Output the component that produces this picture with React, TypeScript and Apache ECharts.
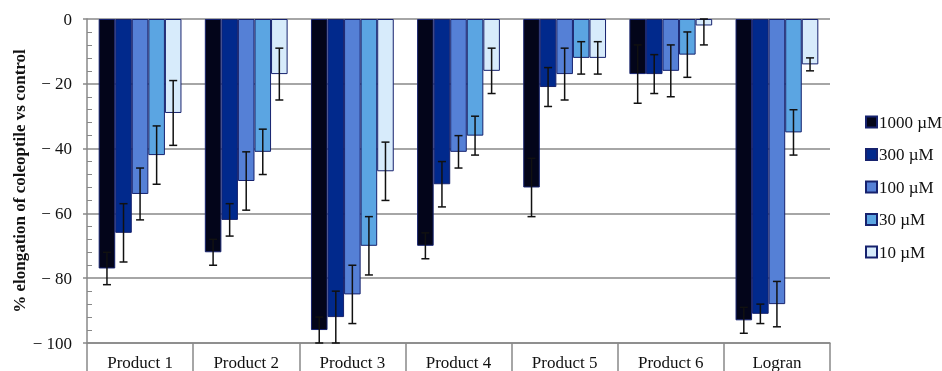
import React, { useEffect, useRef } from "react";
import * as echarts from "echarts";

const categories = ["Product 1", "Product 2", "Product 3", "Product 4", "Product 5", "Product 6", "Logran"];
const seriesNames = ["1000 µM", "300 µM", "100 µM", "30 µM", "10 µM"];
const v1000 = [-77, -72, -96, -70, -52, -17, -93];
const v300 = [-66, -62, -92, -51, -21, -17, -91];
const v100 = [-54, -50, -85, -41, -17, -16, -88];
const v30 = [-42, -41, -70, -36, -12, -11, -35];
const v10 = [-29, -17, -47, -16, -12, -2, -14];
const e1000 = [5, 4, 4, 4, 9, 9, 4];
const e300 = [9, 5, 8, 7, 6, 6, 3];
const e100 = [8, 9, 9, 5, 8, 8, 7];
const e30 = [9, 7, 9, 6, 5, 7, 7];
const e10 = [10, 8, 9, 7, 5, 6, 2];
const colors = ["#03051a", "#01298c", "#5580d6", "#5ba5e2", "#d7ebfb"];

const values = [v1000, v300, v100, v30, v10];
const errors = [e1000, e300, e100, e30, e10];
const GAP = 0.22;
const FONT = "'Liberation Serif', 'Times New Roman', serif";
const GRID_LEFT = 87;
const GRID_RIGHT = 112;
const W = 942;

export default function App() {
  const ref = useRef<HTMLDivElement>(null);
  useEffect(() => {
    const chart = echarts.init(ref.current!, null, { renderer: "svg" });
    const errData: number[][] = [];
    values.forEach((vals, s) => {
      vals.forEach((v, i) => errData.push([i, v, errors[s][i], s]));
    });
    const barSeries = seriesNames.map((name, s) => ({
      name,
      type: "bar",
      data: values[s],
      barGap: "0%",
      barCategoryGap: GAP * 100 + "%",
      itemStyle: { color: colors[s], borderColor: "#16226e", borderWidth: 1 },
    }));
    chart.setOption({
      animation: false,
      grid: { left: GRID_LEFT, right: GRID_RIGHT, top: 19, bottom: 28, containLabel: false, outerBoundsMode: "none" },
      legend: {
        orient: "vertical",
        left: 865,
        top: 113.5,
        padding: 0,
        itemWidth: 11,
        itemHeight: 11,
        itemGap: 15.5,
        icon: "rect",
        data: seriesNames,
        textStyle: { fontFamily: FONT, fontSize: 17, color: "#111", lineHeight: 17, padding: [0, 0, 0, -3] },
      },
      xAxis: {
        type: "category",
        data: categories,
        axisLine: { onZero: false, lineStyle: { color: "#888", width: 1.5 } },
        axisTick: { show: true, length: 40, interval: 0, lineStyle: { color: "#888", width: 1.5 } },
        axisLabel: { fontFamily: FONT, fontSize: 17, color: "#111", margin: 11, interval: 0 },
      },
      yAxis: [
        {
          type: "value",
          min: -100,
          max: 0,
          interval: 20,
          name: "% elongation of coleoptile vs control",
          nameLocation: "middle",
          nameGap: 59,
          nameMoveOverlap: false,
          nameTextStyle: { fontFamily: FONT, fontSize: 17, fontWeight: "bold", color: "#111" },
          axisLine: { show: true, onZero: false, lineStyle: { color: "#888", width: 1.5 } },
          axisTick: { show: true, length: 4, lineStyle: { color: "#888", width: 1.5 } },
          axisLabel: {
            fontFamily: FONT,
            fontSize: 17,
            color: "#111",
            margin: 15,
            formatter: (v: number) => (v < 0 ? "\u2212 " + -v : String(v)),
          },
          splitLine: { lineStyle: { color: "#888", width: 1.5 } },
        },
        {
          type: "value",
          min: -100,
          max: 0,
          interval: 20,
          position: "right",
          offset: -(W - GRID_LEFT - GRID_RIGHT),
          axisLine: { show: false, onZero: false },
          axisTick: { show: false },
          axisLabel: { show: false },
          splitLine: { show: false },
          minorTick: { show: true, splitNumber: 5, length: 5, lineStyle: { color: "#888", width: 1 } },
        },
      ],
      series: [
        ...barSeries,
        {
          type: "custom",
          z: 10,
          data: errData,
          renderItem: (params: any, api: any) => {
            const idx = api.value(0);
            const val = api.value(1);
            const err = api.value(2);
            const s = api.value(3);
            const center = api.coord([idx, val]);
            const band = api.size([1, 0])[0];
            const group = band * (1 - GAP);
            const bw = group / 5;
            const x = center[0] - group / 2 + bw * (s + 0.5);
            const hi = Math.min(0, val + err);
            const lo = Math.max(-100, val - err);
            const y1 = api.coord([idx, hi])[1];
            const y2 = api.coord([idx, lo])[1];
            const cap = 4;
            const st = { stroke: "#111", lineWidth: 1.5 };
            return {
              type: "group",
              children: [
                { type: "line", shape: { x1: x, y1, x2: x, y2 }, style: st },
                { type: "line", shape: { x1: x - cap, y1, x2: x + cap, y2: y1 }, style: st },
                { type: "line", shape: { x1: x - cap, y1: y2, x2: x + cap, y2 }, style: st },
              ],
            };
          },
        },
      ],
    });
    return () => chart.dispose();
  }, []);
  return <div ref={ref} style={{ position: "fixed", left: 0, top: 0, width: W, height: 371 }} />;
}
